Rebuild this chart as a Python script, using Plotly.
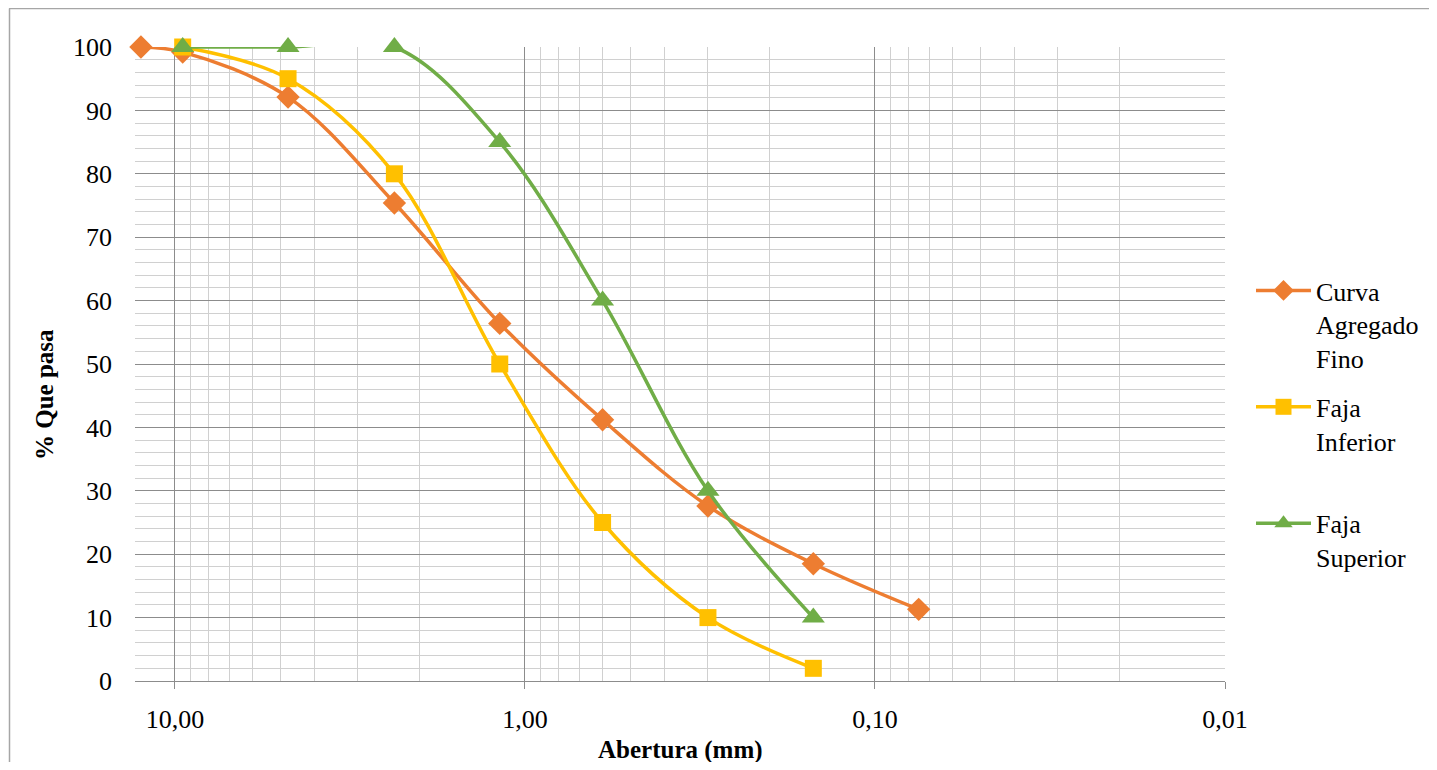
import math
import plotly.graph_objects as go

# ---- data ----
curva_x = [12.5, 9.5, 4.75, 2.36, 1.18, 0.6, 0.3, 0.15, 0.075]
curva_y = [100, 99.2, 92.1, 75.4, 56.4, 41.2, 27.6, 18.5, 11.3]

inferior_x = [9.5, 4.75, 2.36, 1.18, 0.6, 0.3, 0.15]
inferior_y = [100, 95, 80, 50, 25, 10, 2]

superior_x = [9.5, 4.75, 2.36, 1.18, 0.6, 0.3, 0.15]
superior_y = [100, 100, 100, 85, 60, 30, 10]

x_major = [10, 1, 0.1, 0.01]
x_major_text = ["10,00", "1,00", "0,10", "0,01"]
y_ticks = list(range(0, 101, 10))

FONT = "'Liberation Serif', 'Times New Roman', serif"

minor_x = [m * 10 ** e for e in (-2, -1, 0) for m in range(2, 10)]

# figure placed at page offset (8, 8) by the default body margin
W, H = 1421, 754
L, T = 127, 39
PR, PB = 1217, 673          # plot right / bottom in figure px
PW, PH = PR - L, PB - T


def px(xf):
    return (xf - L) / PW


def py(yf):
    return (PB - yf) / PH


fig = go.Figure()

fig.add_trace(go.Scatter(
    x=curva_x, y=curva_y, name="Curva<br>Agregado<br>Fino", legendgroup="a",
    mode="lines+markers", line=dict(color="#ED7D31", width=3.5, shape="spline", smoothing=1),
    marker=dict(symbol="diamond", size=18, color="#ED7D31"), cliponaxis=False))
fig.add_trace(go.Scatter(
    x=inferior_x, y=inferior_y, name="Faja<br>Inferior<br> ", legendgroup="b",
    mode="lines+markers", line=dict(color="#FFC000", width=3.5, shape="spline", smoothing=1),
    marker=dict(symbol="square", size=17, color="#FFC000"), cliponaxis=False))
fig.add_trace(go.Scatter(
    x=superior_x, y=superior_y, name="Faja<br>Superior", legendgroup="c",
    mode="lines+markers", line=dict(color="#70AD47", width=3.5, shape="spline", smoothing=1),
    marker=dict(symbol="triangle-up", size=20, color="#70AD47"), cliponaxis=False))

fig.update_layout(
    width=W, height=H,
    margin=dict(l=L, r=W - PR, t=T, b=H - PB, autoexpand=False),
    paper_bgcolor="white", plot_bgcolor="white",
    font=dict(family=FONT, size=26, color="black"),
    showlegend=True,
    legend=dict(x=px(1243), xanchor="left", y=py(259), yanchor="top",
                valign="top", itemwidth=55, tracegroupgap=12,
                font=dict(family=FONT, size=26, color="black")),
    xaxis=dict(
        type="log", range=[math.log10(13.0), -2],
        tickmode="array", tickvals=x_major, ticktext=x_major_text,
        showgrid=True, gridcolor="#8c8c8c", gridwidth=1,
        ticks="outside", ticklen=7, tickcolor="#8c8c8c",
        showline=True, linecolor="#8c8c8c", linewidth=1,
        ticklabelstandoff=8,
        minor=dict(tickmode="array", tickvals=minor_x, showgrid=True,
                   gridcolor="#d0d0d0", gridwidth=1, ticks=""),
        zeroline=False,
    ),
    yaxis=dict(
        range=[0, 100], tickmode="array", tickvals=y_ticks,
        showgrid=True, gridcolor="#8c8c8c", gridwidth=1,
        ticks="", showline=False, zeroline=False,
        ticklabelstandoff=22,
        minor=dict(dtick=2, showgrid=True, gridcolor="#d0d0d0", gridwidth=1, ticks=""),
    ),
    annotations=[
        dict(text="<b>Abertura (mm)</b>", xref="paper", yref="paper",
             x=0.5, y=py(742), xanchor="center", yanchor="middle",
             showarrow=False, font=dict(family=FONT, size=25, color="black")),
        dict(text="<b>% Que pasa</b>", xref="paper", yref="paper",
             x=px(37), y=py(387), xanchor="center", yanchor="middle",
             textangle=-90, showarrow=False, font=dict(family=FONT, size=25, color="black")),
    ],
    shapes=[
        dict(type="line", xref="paper", yref="paper",
             x0=px(1), x1=px(W + 5), y0=py(0.5), y1=py(0.5),
             line=dict(color="#a6a6a6", width=1.5)),
        dict(type="line", xref="paper", yref="paper",
             x0=px(1.5), x1=px(1.5), y0=py(0.5), y1=py(H + 5),
             line=dict(color="#a6a6a6", width=1.5)),
    ],
)

fig.write_html("out.html")
